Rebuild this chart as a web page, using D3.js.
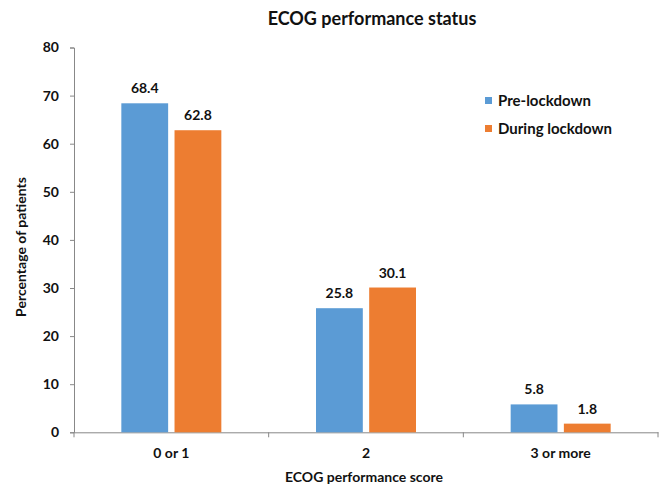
<!DOCTYPE html>
<html>
<head>
<meta charset="utf-8">
<script src="https://cdn.jsdelivr.net/npm/d3@7/dist/d3.min.js"></script>
<style>
body{margin:0;background:#fff;}
svg text{font-family:Lato,"Open Sans",sans-serif;font-weight:bold;fill:#111;}
</style>
</head>
<body>
<div id="chart"></div>
<script>
// data
var categories = ['0 or 1', '2', '3 or more'];
var seriesNames = ['Pre-lockdown', 'During lockdown'];
var preLockdown = [68.4, 25.8, 5.8];
var duringLockdown = [62.8, 30.1, 1.8];
var yTicks = [0, 10, 20, 30, 40, 50, 60, 70, 80];
var colors = ['#5B9BD5', '#ED7D31'];

var W = 666, H = 487;
var svg = d3.select('#chart').append('svg').attr('width', W).attr('height', H);

var x = d3.scaleBand().domain(categories).range([74, 658]);
var inner = d3.scaleBand().domain(seriesNames).range([0, 100]).paddingInner(0.12);
var y = d3.scaleLinear().domain([0, 80]).range([432.3, 47.5]);

// y axis
var yAxis = svg.append('g').attr('transform', 'translate(74,0)')
	.call(d3.axisLeft(y).tickValues(yTicks).tickSize(4).tickPadding(11));
yAxis.select('.domain').attr('stroke', '#888');
yAxis.selectAll('.tick line').attr('stroke', '#888');
yAxis.selectAll('.tick text').attr('font-size', '14px').attr('fill', '#111');

// x axis
var xAxis = svg.append('g').attr('transform', 'translate(0,' + y(0) + ')')
	.call(d3.axisBottom(x).tickSize(0).tickPadding(16));
xAxis.select('.domain').attr('stroke', '#888');
xAxis.selectAll('.tick text').attr('font-size', '14px').attr('fill', '#111');
// ticks between categories
var edges = [x.range()[0]].concat(categories.map(function(c){ return x(c) + x.bandwidth(); }));
svg.append('g').selectAll('line').data(edges).enter().append('line')
	.attr('x1', function(d){ return d; }).attr('x2', function(d){ return d; })
	.attr('y1', y(0)).attr('y2', y(0) + 5)
	.attr('stroke', '#888');

// bars
var rows = categories.map(function(c, i){
	return {cat: c, vals: [preLockdown[i], duringLockdown[i]]};
});
var groups = svg.append('g').selectAll('g').data(rows).enter().append('g')
	.attr('transform', function(d){ return 'translate(' + (x(d.cat) + (x.bandwidth() - 100) / 2) + ',0)'; });
var cells = groups.selectAll('g').data(function(d){
	return d.vals.map(function(v, j){ return {name: seriesNames[j], v: v, j: j}; });
}).enter().append('g');
cells.append('rect')
	.attr('x', function(d){ return inner(d.name); })
	.attr('width', inner.bandwidth())
	.attr('y', function(d){ return y(d.v); })
	.attr('height', function(d){ return y(0) - y(d.v); })
	.attr('fill', function(d){ return colors[d.j]; });
cells.append('text')
	.attr('x', function(d){ return inner(d.name) + inner.bandwidth() / 2; })
	.attr('y', function(d){ return y(d.v) - 10; })
	.attr('text-anchor', 'middle')
	.attr('font-size', '14px')
	.text(function(d){ return d.v.toFixed(1); });

// title
svg.append('text').attr('x', 372).attr('y', 25).attr('text-anchor', 'middle')
	.attr('font-size', '18px').text('ECOG performance status');
// axis titles
svg.append('text').attr('x', 364).attr('y', 482).attr('text-anchor', 'middle')
	.attr('font-size', '14px').text('ECOG performance score');
svg.append('text').attr('transform', 'translate(25.5,247) rotate(-90)').attr('text-anchor', 'middle')
	.attr('font-size', '14px').text('Percentage of patients');

// legend
var legend = svg.append('g').selectAll('g').data(seriesNames).enter().append('g')
	.attr('transform', function(d, i){ return 'translate(485,' + (97 + i * 28) + ')'; });
legend.append('rect').attr('width', 7).attr('height', 7)
	.attr('fill', function(d, i){ return colors[i]; });
legend.append('text').attr('x', 13).attr('y', 8.5).attr('font-size', '15px')
	.text(function(d){ return d; });
</script>
</body>
</html>
